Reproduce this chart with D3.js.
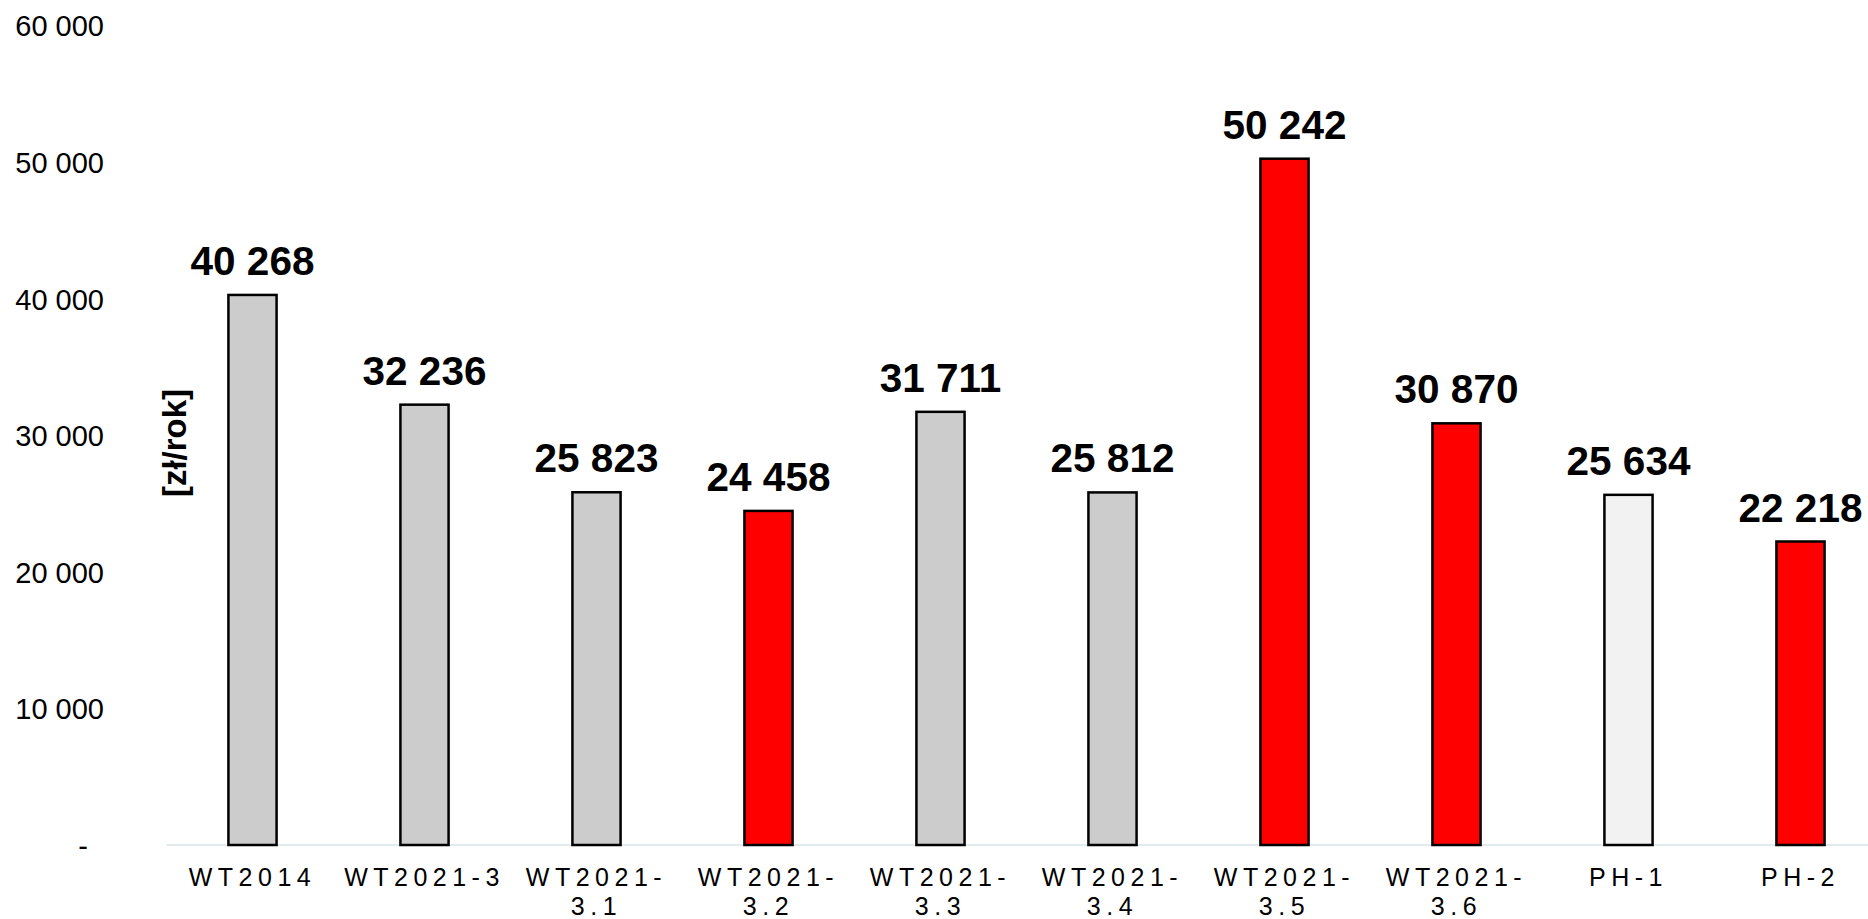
<!DOCTYPE html>
<html>
<head>
<meta charset="utf-8">
<script src="https://cdn.jsdelivr.net/npm/d3@7"></script>
<style>
  html, body { margin: 0; padding: 0; background: #ffffff; }
  svg { display: block; font-family: "Liberation Sans", Arial, sans-serif; }
</style>
</head>
<body>
<svg id="chart" width="1868" height="919"></svg>
<script>
// Annual cost per variant [zł/rok]
const categories = ["WT2014", "WT2021-3", "WT2021-3.1", "WT2021-3.2", "WT2021-3.3",
                    "WT2021-3.4", "WT2021-3.5", "WT2021-3.6", "PH-1", "PH-2"];
const categoryLines = [["WT2014"], ["WT2021-3"], ["WT2021-", "3.1"], ["WT2021-", "3.2"],
                       ["WT2021-", "3.3"], ["WT2021-", "3.4"], ["WT2021-", "3.5"],
                       ["WT2021-", "3.6"], ["PH-1"], ["PH-2"]];
const values = [40268, 32236, 25823, 24458, 31711, 25812, 50242, 30870, 25634, 22218];
const barColors = ["#cccccc", "#cccccc", "#cccccc", "#ff0000", "#cccccc",
                   "#cccccc", "#ff0000", "#ff0000", "#f2f2f2", "#ff0000"];
const yTicks = [0, 10000, 20000, 30000, 40000, 50000, 60000];
const yTitle = "[zł/rok]";

const svg = d3.select("#chart");

const plLocale = d3.formatLocale({ decimal: ",", thousands: " ", grouping: [3], currency: ["", " zł"] });
const fmt = plLocale.format(",d");

const baseY = 845;
const x = d3.scaleBand()
  .domain(categories)
  .range([166.5, 166.5 + 172 * categories.length])
  .paddingInner(0.72)
  .paddingOuter(0.36);

const y = d3.scaleLinear().domain([0, 60000]).range([baseY, baseY - 6 * 136.6]);

// Y axis labels (no axis line)
const yAxis = d3.axisLeft(y)
  .tickValues(yTicks)
  .tickSize(0)
  .tickPadding(0)
  .tickFormat(d => d === 0 ? "-" : fmt(d));

const yG = svg.append("g").attr("transform", "translate(104,0)").call(yAxis);
yG.select(".domain").remove();
yG.selectAll("text")
  .attr("font-family", "'Liberation Sans', Arial, sans-serif")
  .attr("font-size", 29)
  .attr("fill", "#000")
  .attr("dy", "0.36em")
  .attr("dx", d => d === 0 ? -16 : 0);

// Y axis title
svg.append("text")
  .attr("transform", "translate(186,443) rotate(-90)")
  .attr("text-anchor", "middle")
  .attr("font-size", 33)
  .attr("font-weight", "bold")
  .attr("fill", "#000")
  .text(yTitle);

// Category axis baseline
svg.append("line")
  .attr("x1", x.range()[0]).attr("x2", x.range()[1])
  .attr("y1", y(0)).attr("y2", y(0))
  .attr("stroke", "#d9e3e8")
  .attr("stroke-width", 1.5);

// Bars
svg.append("g").selectAll("rect")
  .data(values)
  .join("rect")
  .attr("x", (d, i) => x(categories[i]))
  .attr("y", d => y(d))
  .attr("width", x.bandwidth())
  .attr("height", d => y(0) - y(d))
  .attr("fill", (d, i) => barColors[i])
  .attr("stroke", "#000")
  .attr("stroke-width", 2.5);

// Value labels
svg.append("g").selectAll("text")
  .data(values)
  .join("text")
  .attr("x", (d, i) => x(categories[i]) + x.bandwidth() / 2)
  .attr("y", d => y(d) - 20)
  .attr("text-anchor", "middle")
  .attr("font-size", 40.5)
  .attr("font-weight", "bold")
  .attr("fill", "#000")
  .text(d => fmt(d));

// Category labels
const xl = svg.append("g").selectAll("text")
  .data(categories)
  .join("text")
  .attr("x", d => x(d) + x.bandwidth() / 2)
  .attr("y", baseY + 41)
  .attr("text-anchor", "middle")
  .attr("font-size", 25)
  .attr("letter-spacing", "5.5px")
  .attr("fill", "#000");

xl.each(function(d, i) {
  const t = d3.select(this);
  const cx = x(d) + x.bandwidth() / 2;
  categoryLines[i].forEach((line, j) => {
    t.append("tspan")
      .attr("x", cx)
      .attr("dy", j === 0 ? 0 : 29)
      .text(line);
  });
});
</script>
</body>
</html>
